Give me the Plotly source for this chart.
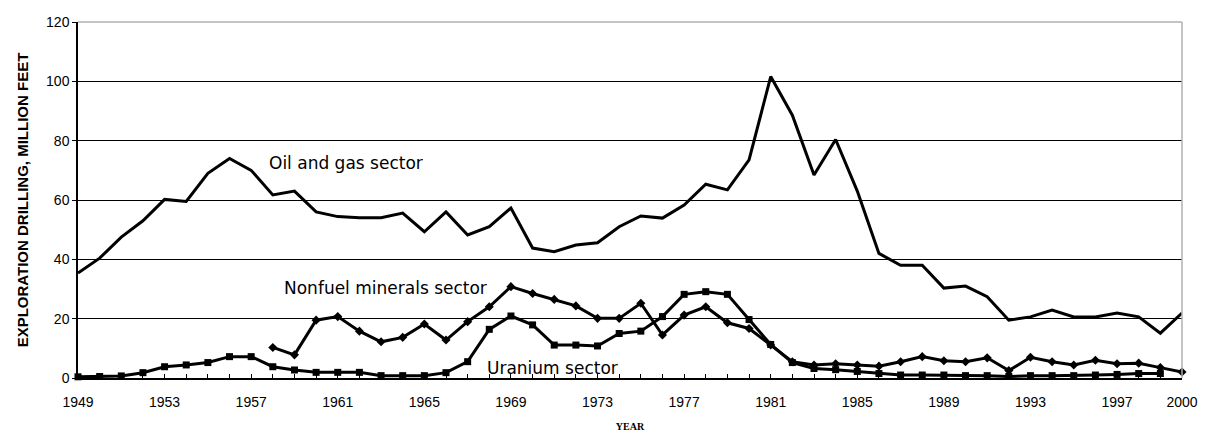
import plotly.graph_objects as go

years_oil = list(range(1949, 2001))
oil_gas = [35.4, 40.4, 47.5, 53.0, 60.2, 59.5, 69.0, 74.0, 70.0, 61.7,
           63.0, 56.0, 54.4, 54.0, 54.0, 55.6, 49.3, 56.0, 48.2, 51.0,
           57.3, 43.8, 42.6, 44.8, 45.6, 51.0, 54.6, 53.9, 58.3, 65.3,
           63.4, 73.5, 101.6, 88.6, 68.4, 80.4, 63.0, 42.0, 38.0, 38.0,
           30.3, 31.0, 27.4, 19.5, 20.6, 22.9, 20.6, 20.6, 21.9, 20.6,
           15.1, 21.9]

years_nonfuel = list(range(1958, 2001))
nonfuel = [10.3, 7.8, 19.5, 20.7, 15.8, 12.2, 13.7, 18.2, 12.8, 19.0,
           24.0, 30.8, 28.5, 26.5, 24.3, 20.1, 20.1, 25.2, 14.5, 21.2,
           24.0, 18.6, 16.7, 11.1, 5.5, 4.4, 4.8, 4.4, 4.0, 5.5,
           7.2, 5.8, 5.5, 6.8, 2.5, 7.0, 5.5, 4.4, 6.0, 4.8,
           5.0, 3.5, 2.0]

years_uranium = list(range(1949, 2000))
uranium = [0.4, 0.5, 0.7, 1.8, 3.8, 4.4, 5.2, 7.2, 7.2, 3.8,
           2.7, 1.9, 1.9, 1.9, 0.8, 0.8, 0.8, 1.8, 5.5, 16.4,
           20.9, 17.9, 11.1, 11.1, 10.8, 15.0, 15.8, 20.7, 28.2, 29.1,
           28.2, 19.7, 11.3, 5.2, 3.2, 2.8, 2.2, 1.5, 1.0, 1.0,
           1.0, 0.8, 0.8, 0.5, 0.8, 0.8, 0.8, 1.0, 1.2, 1.5,
           1.5]

tick_years = [1949, 1953, 1957, 1961, 1965, 1969, 1973, 1977, 1981, 1985, 1989, 1993, 1997, 2000]
y_ticks = [0, 20, 40, 60, 80, 100, 120]

series_labels = ["Oil and gas sector", "Nonfuel minerals sector", "Uranium sector"]
label_pos_x = [1961.4, 1963.2, 1970.9]
label_pos_y = [72.5, 30.3, 3.4]

FONT = "Liberation Sans Narrow, Liberation Sans, Arial"

fig = go.Figure()
fig.add_trace(go.Scatter(x=years_uranium, y=uranium, mode="lines+markers",
                         line=dict(color="black", width=3),
                         marker=dict(symbol="square", size=7, color="black"),
                         name=series_labels[2], cliponaxis=False))
fig.add_trace(go.Scatter(x=years_nonfuel, y=nonfuel, mode="lines+markers",
                         line=dict(color="black", width=3),
                         marker=dict(symbol="diamond", size=7, color="black"),
                         name=series_labels[1], cliponaxis=False))
fig.add_trace(go.Scatter(x=years_oil, y=oil_gas, mode="lines",
                         line=dict(color="black", width=3),
                         name=series_labels[0], cliponaxis=False))

for txt, lx, ly in zip(series_labels, label_pos_x, label_pos_y):
    fig.add_annotation(x=lx, y=ly, text=txt, showarrow=False,
                       font=dict(family="DejaVu Sans", size=17, color="black"),
                       xanchor="center", yanchor="middle")

fig.add_shape(type="line", xref="paper", yref="paper", x0=0, x1=1, y0=1, y1=1,
              line=dict(color="#b0b0b0", width=1.5), layer="above")
fig.add_shape(type="line", xref="paper", yref="paper", x0=1, x1=1, y0=0, y1=1,
              line=dict(color="#b0b0b0", width=1.5), layer="above")

fig.update_layout(
    width=1205, height=437,
    margin=dict(l=78, r=23, t=22, b=59, autoexpand=False),
    plot_bgcolor="white", paper_bgcolor="white",
    showlegend=False,
    font=dict(family=FONT, color="black"),
    xaxis=dict(range=[1949, 2000], tickvals=tick_years, ticktext=[str(t) for t in tick_years],
               automargin=False,
               showgrid=False, zeroline=False, showline=True, linecolor="black", linewidth=1.5,
               ticks="inside", ticklen=4, tickcolor="black", ticklabelstandoff=10,
               tickfont=dict(size=14, family=FONT),
               minor=dict(tickmode="linear", tick0=1949, dtick=1, ticks="inside", ticklen=4,
                          tickcolor="black", showgrid=False),
               title=dict(text="<b>YEAR</b>", font=dict(size=10, family="Liberation Serif, serif"),
                          standoff=14)),
    yaxis=dict(range=[0, 120], tickvals=y_ticks, showgrid=True, gridcolor="black", gridwidth=1,
               automargin=False,
               zeroline=False, showline=True, linecolor="black", linewidth=1.5,
               ticks="outside", ticklen=4, tickcolor="black",
               tickfont=dict(size=14, family=FONT),
               title=dict(text="<b>EXPLORATION DRILLING, MILLION FEET</b>",
                          font=dict(size=15, family=FONT),
                          standoff=14)),
)

fig.write_html("out.html", config={"displayModeBar": False},
               post_script="document.body.style.margin='0px';document.body.style.overflow='hidden';")
